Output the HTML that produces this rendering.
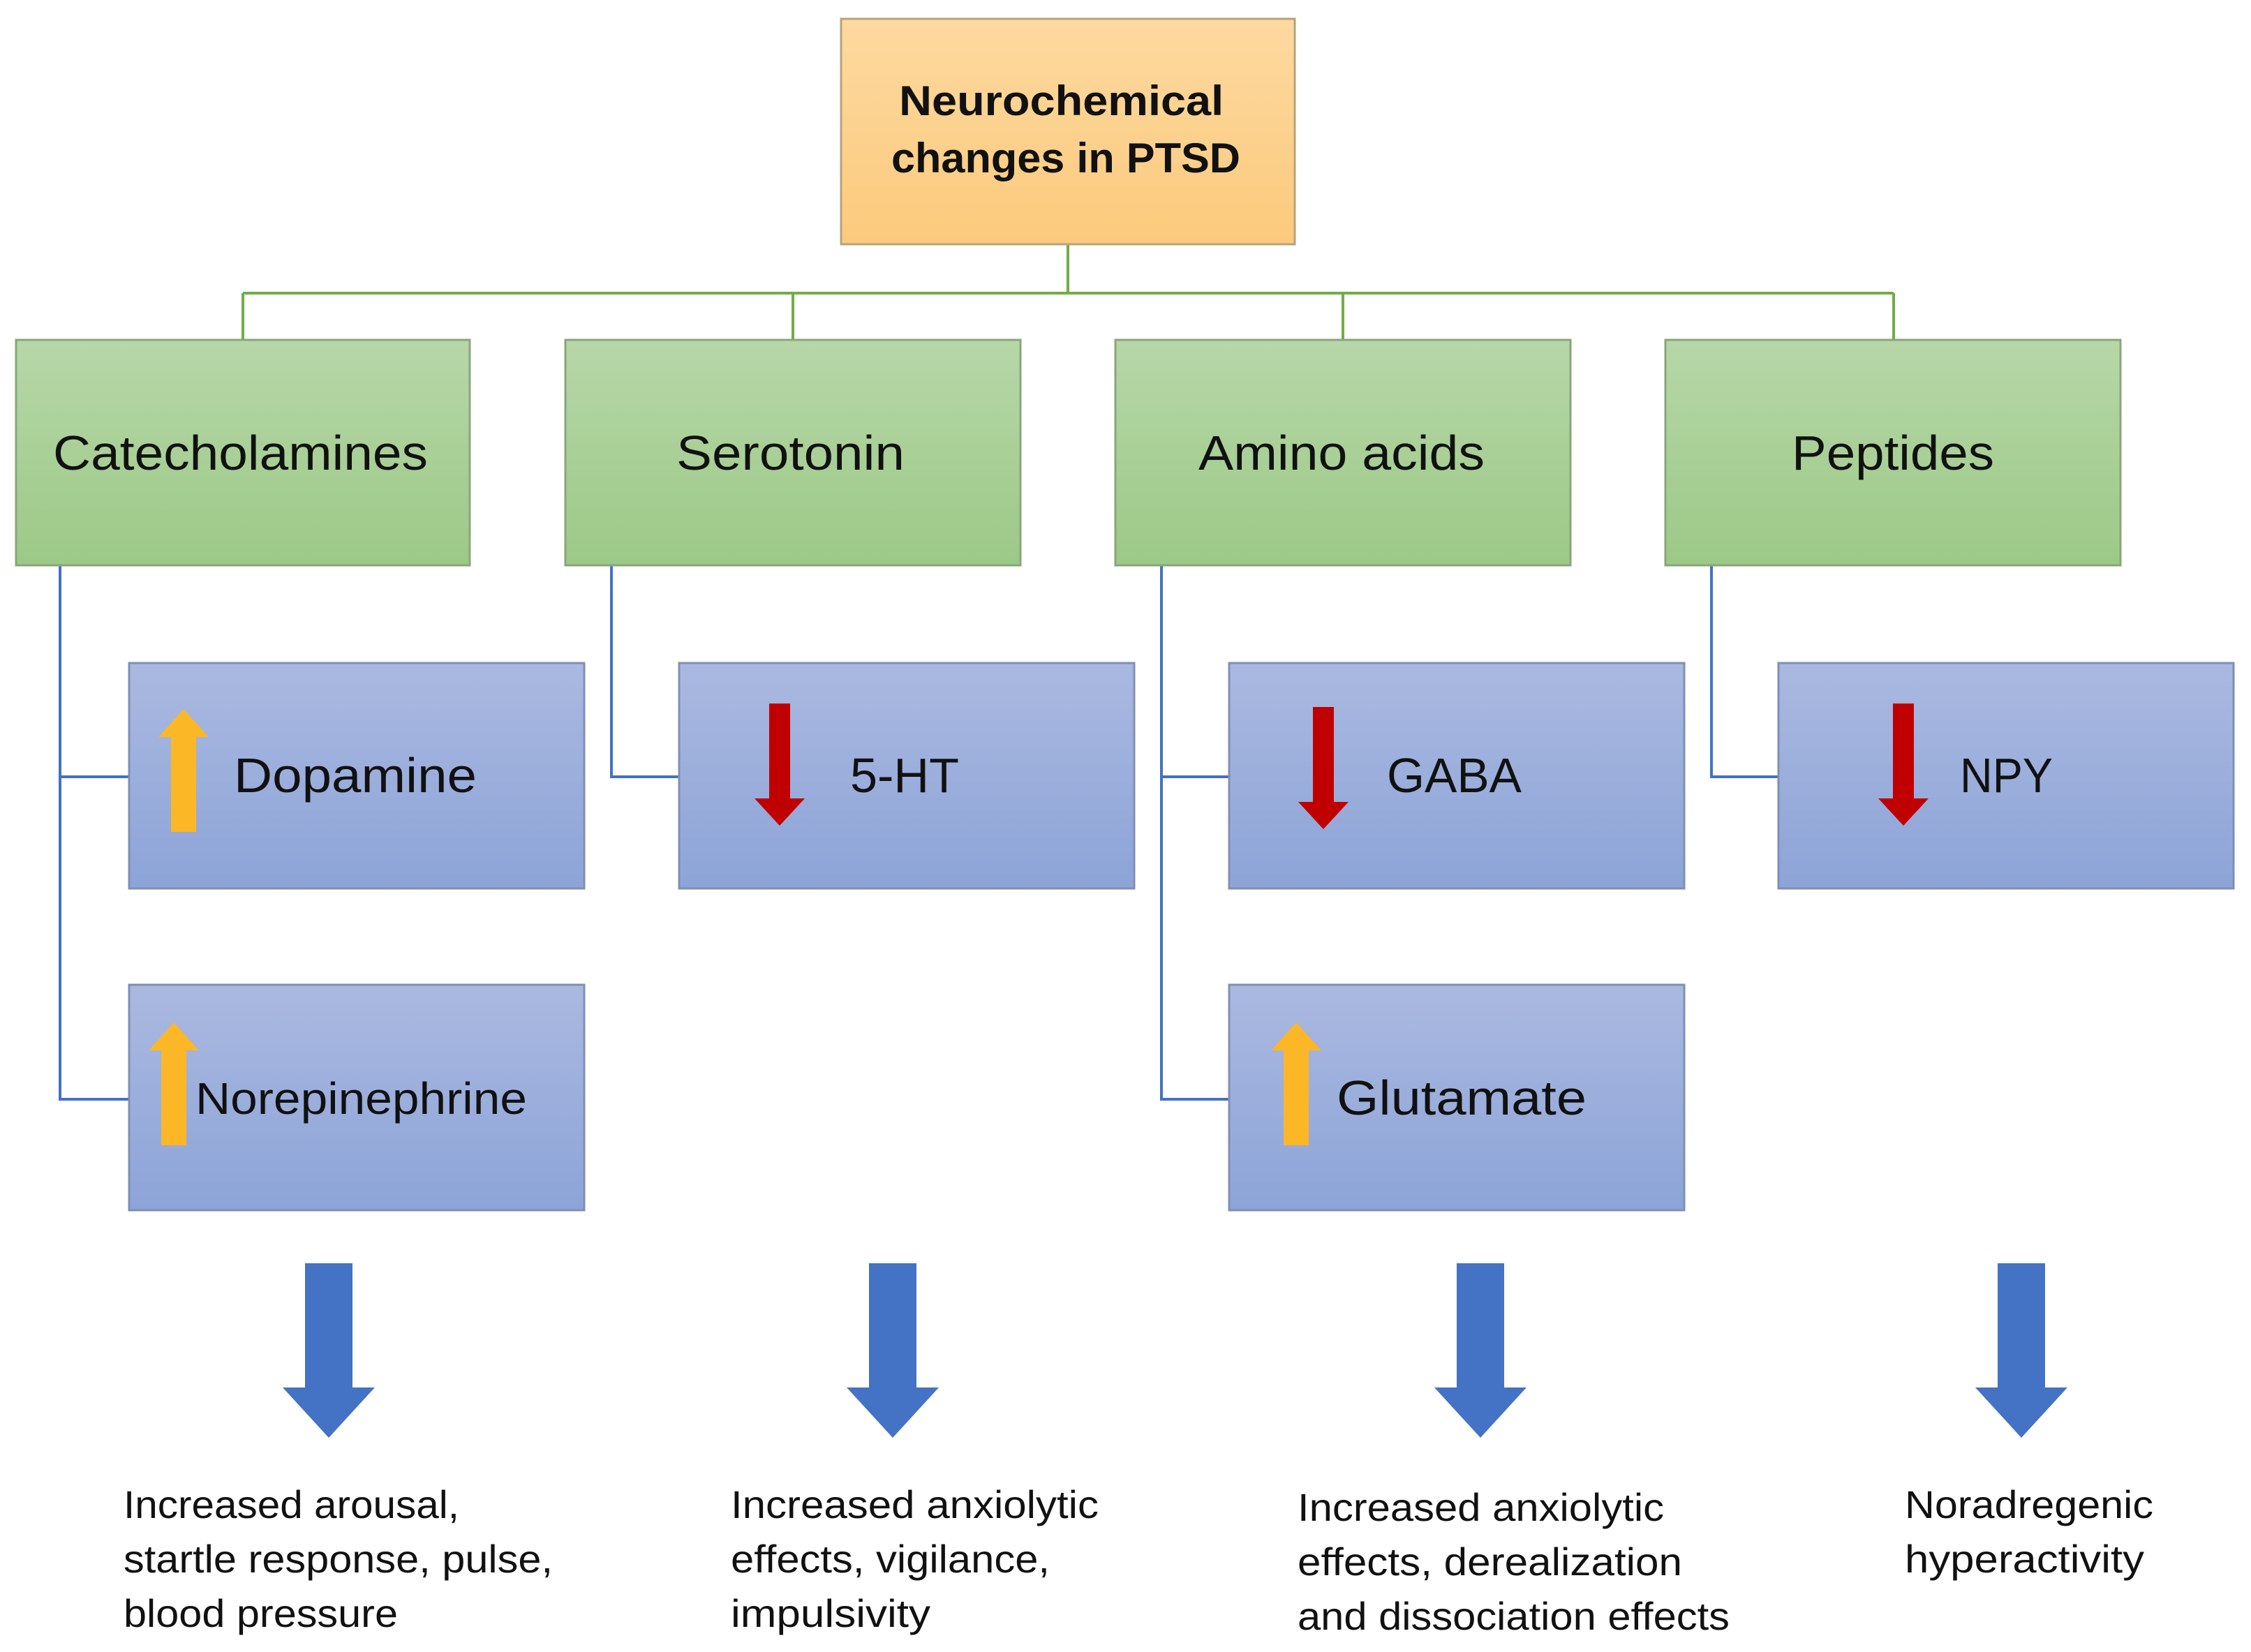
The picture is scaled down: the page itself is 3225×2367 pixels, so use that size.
<!DOCTYPE html>
<html><head><meta charset="utf-8"><style>html,body{margin:0;padding:0;background:#fff}svg{display:block}</style></head>
<body>
<svg width="3225" height="2367" viewBox="0 0 3225 2367" xmlns="http://www.w3.org/2000/svg" font-family="Liberation Sans, DejaVu Sans, sans-serif">
<defs>
<linearGradient id="go" x1="0" y1="0" x2="0" y2="1"><stop offset="0" stop-color="#fdd9a0"/><stop offset="1" stop-color="#fcca7c"/></linearGradient>
<linearGradient id="gg" x1="0" y1="0" x2="0" y2="1"><stop offset="0" stop-color="#b7d7a8"/><stop offset="1" stop-color="#9cc987"/></linearGradient>
<linearGradient id="gb" x1="0" y1="0" x2="0" y2="1"><stop offset="0" stop-color="#aab9e0"/><stop offset="1" stop-color="#8da4d8"/></linearGradient>
<g id="up"><rect x="-18" y="30" width="36" height="140" fill="#fbb725"/><polygon points="-36,34 0,-6 36,34" fill="#fbb725"/></g>
<g id="dn"><rect x="-15" y="0" width="30" height="140" fill="#c00000"/><polygon points="-36,136 36,136 0,175" fill="#c00000"/></g>
<g id="big"><rect x="-34" y="0" width="68" height="180" fill="#4472c4"/><polygon points="-66,178 66,178 0,250" fill="#4472c4"/></g>
</defs>
<g stroke="#70ad47" stroke-width="4" fill="none">
<line x1="1530" y1="350" x2="1530" y2="420"/>
<line x1="348" y1="420" x2="2713" y2="420"/>
<line x1="348" y1="420" x2="348" y2="487"/>
<line x1="1136" y1="420" x2="1136" y2="487"/>
<line x1="1924" y1="420" x2="1924" y2="487"/>
<line x1="2713" y1="420" x2="2713" y2="487"/>
</g>
<g stroke="#4472c4" stroke-width="4" fill="none">
<polyline points="86,810 86,1575 185,1575"/><line x1="86" y1="1113" x2="185" y2="1113"/>
<polyline points="876,810 876,1113 973,1113"/>
<polyline points="1664,810 1664,1575 1761,1575"/><line x1="1664" y1="1113" x2="1761" y2="1113"/>
<polyline points="2452,810 2452,1113 2548,1113"/>
</g>
<rect x="1205" y="27" width="650" height="323" fill="url(#go)" stroke="#b9a27a" stroke-width="3"/>
<text font-weight="bold" font-size="60" fill="#111" text-anchor="middle">
<tspan x="1529" y="165" textLength="465" lengthAdjust="spacingAndGlyphs">Neurochemical</tspan>
<tspan x="1527" y="247" textLength="500" lengthAdjust="spacingAndGlyphs">changes in PTSD</tspan></text>
<g fill="url(#gg)" stroke="#8aa57c" stroke-width="3">
<rect x="23" y="487" width="650" height="323"/><rect x="810" y="487" width="652" height="323"/>
<rect x="1598" y="487" width="652" height="323"/><rect x="2386" y="487" width="652" height="323"/>
</g>
<g font-size="70" fill="#111">
<text x="76" y="673" textLength="537" lengthAdjust="spacingAndGlyphs">Catecholamines</text>
<text x="969" y="673" textLength="327" lengthAdjust="spacingAndGlyphs">Serotonin</text>
<text x="1717" y="673" textLength="410" lengthAdjust="spacingAndGlyphs">Amino acids</text>
<text x="2567" y="673" textLength="290" lengthAdjust="spacingAndGlyphs">Peptides</text>
</g>
<g fill="url(#gb)" stroke="#7f8fb5" stroke-width="3">
<rect x="185" y="950" width="652" height="323"/><rect x="973" y="950" width="652" height="323"/>
<rect x="1761" y="950" width="652" height="323"/><rect x="2548" y="950" width="652" height="323"/>
<rect x="185" y="1411" width="652" height="323"/><rect x="1761" y="1411" width="652" height="323"/>
</g>
<use href="#up" x="263" y="1022"/>
<use href="#up" x="249" y="1471"/>
<use href="#up" x="1857" y="1471"/>
<use href="#dn" x="1117" y="1008"/>
<use href="#dn" x="1896" y="1013"/>
<use href="#dn" x="2727" y="1008"/>
<g font-size="70" fill="#111">
<text x="335" y="1135" textLength="348" lengthAdjust="spacingAndGlyphs">Dopamine</text>
<text x="1218" y="1135" textLength="156" lengthAdjust="spacingAndGlyphs">5-HT</text>
<text x="1987" y="1135" textLength="193" lengthAdjust="spacingAndGlyphs">GABA</text>
<text x="2808" y="1135" textLength="133" lengthAdjust="spacingAndGlyphs">NPY</text>
<text x="280" y="1596" font-size="64" textLength="475" lengthAdjust="spacingAndGlyphs">Norepinephrine</text>
<text x="1915" y="1597" textLength="358" lengthAdjust="spacingAndGlyphs">Glutamate</text>
</g>
<use href="#big" x="471" y="1810"/>
<use href="#big" x="1279" y="1810"/>
<use href="#big" x="2121" y="1810"/>
<use href="#big" x="2896" y="1810"/>
<g font-size="56" fill="#111">
<text x="177" y="2175" textLength="481" lengthAdjust="spacingAndGlyphs">Increased arousal,</text>
<text x="177" y="2253" textLength="615" lengthAdjust="spacingAndGlyphs">startle response, pulse,</text>
<text x="177" y="2331" textLength="393" lengthAdjust="spacingAndGlyphs">blood pressure</text>
<text x="1047" y="2175" textLength="527" lengthAdjust="spacingAndGlyphs">Increased anxiolytic</text>
<text x="1047" y="2253" textLength="457" lengthAdjust="spacingAndGlyphs">effects, vigilance,</text>
<text x="1047" y="2331" textLength="286" lengthAdjust="spacingAndGlyphs">impulsivity</text>
<text x="1859" y="2179" textLength="525" lengthAdjust="spacingAndGlyphs">Increased anxiolytic</text>
<text x="1859" y="2257" textLength="551" lengthAdjust="spacingAndGlyphs">effects, derealization</text>
<text x="1859" y="2335" textLength="619" lengthAdjust="spacingAndGlyphs">and dissociation effects</text>
<text x="2729" y="2175" textLength="356" lengthAdjust="spacingAndGlyphs">Noradregenic</text>
<text x="2729" y="2253" textLength="343" lengthAdjust="spacingAndGlyphs">hyperactivity</text>
</g>
</svg>
</body></html>
